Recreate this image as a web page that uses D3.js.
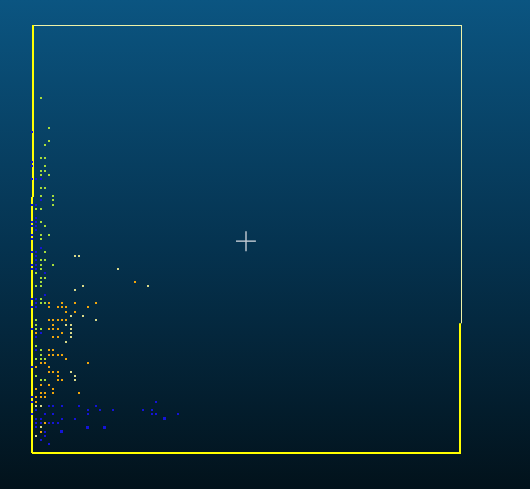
<!DOCTYPE html>
<html><head><meta charset="utf-8">
<script src="https://cdn.jsdelivr.net/npm/d3@7"></script>
<style>html,body{margin:0;padding:0;overflow:hidden;background:#03121b}</style>
</head><body>
<script>
// grid coordinates (0..100 on both axes)
const greenPoints = [[2,83],[4,76],[4,73],[3,72],[2,69],[3,69],[3,67],[2,66],[3,66],[2,65],[4,65],[2,62],[3,62],[2,60],[5,60],[5,59],[5,58],[1,57],[2,57],
 [2,54],[3,53],[2,51],[4,51],[2,50],[3,47],[2,45],[3,45],[2,44],[5,44],[2,43],[1,42],[2,41],[3,41],[2,40],[1,39],[2,39],[2,36],[2,35],[3,35],
 [1,31],[1,30],[1,29],[2,29],[1,25],[2,24],[2,23],[1,22],[2,22],[3,22],[1,18],[2,17],[3,17]];
const orangePoints = [[4,35],[7,35],[10,35],[15,35],[4,34],[6,34],[7,34],[8,34],[13,34],[8,33],[10,33],
 [4,31],[5,31],[6,31],[7,31],[8,31],[5,30],[4,29],[5,29],[6,29],[1,28],[7,28],[5,27],[6,27],
 [4,24],[5,24],[4,23],[5,23],[6,23],[7,23],[8,22],[2,21],[3,21],[13,21],[1,20],[4,20],[4,19],[5,19],[6,19],
 [6,18],[6,17],[7,17],[2,16],[4,16],[1,15],[5,15],[2,14],[3,14],[5,14],[11,14],[1,13],[2,13],[3,13],[1,12],
 [3,7],[2,5],[24,40]];
const lightPoints = [[10,46],[11,46],[20,43],[27,39],[12,39],[10,38],[9,32],[12,32],[15,31],[8,30],[9,30],[9,29],
 [9,28],[9,27],[8,26],[9,19],[10,18],[10,17],[1,11],[2,11],[2,6],[1,4]];
const bluePoints = [[0,75],[0,68],[0,67],[0,64],[0,58],[0,54],[0,53],[0,51],[0,50],[0,47],[0,44],[0,43],[0,36],[0,34],[0,29],[0,20],[0,13],[0,12],[0,9],
 [1,64],[2,64],[1,58],[2,59],[1,55],[1,54],[1,53],[1,52],[2,48],[1,47],[1,46],[1,45],[1,44],[1,43],[3,42],[3,37],[1,36],[1,35],[1,34],
 [2,28],[1,27],[1,24],
 [4,11],[5,11],[7,11],[11,11],[15,11],[29,12],[1,10],[13,10],[16,10],[19,10],[26,10],[28,10],
 [3,9],[5,9],[13,9],[28,9],[29,9],[34,9],[1,8],[2,8],[7,8],[10,8],[1,7],[2,7],[4,7],[5,7],[6,7],
 [1,6],[3,5],[3,4],[2,3],[4,2]];
const bigBluePoints = [[31,8],[13,6],[17,6],[7,5]];
const xDomain = [0,100], yDomain = [0,100];

const W = 530, H = 489;
const svg = d3.select("body").append("svg").attr("width", W).attr("height", H);
const defs = svg.append("defs");
const grad = defs.append("linearGradient").attr("id","bg").attr("x1",0).attr("y1",0).attr("x2",0).attr("y2",1);
grad.append("stop").attr("offset","0%").attr("stop-color","#0b5581");
grad.append("stop").attr("offset","50%").attr("stop-color","#053350");
grad.append("stop").attr("offset","100%").attr("stop-color","#02121b");
svg.append("rect").attr("width",W).attr("height",H).attr("fill","url(#bg)");

const x = d3.scaleLinear().domain(xDomain).range([32, 460]);
const y = d3.scaleLinear().domain(yDomain).range([453, 25]);

function drawPts(data, color, size){
  svg.append("g").selectAll("rect").data(data).join("rect")
    .attr("x", d => Math.round(x(d[0]) - size/2))
    .attr("y", d => Math.round(y(d[1]) - size/2))
    .attr("width", size).attr("height", size)
    .attr("fill", color);
}

// box
const box = svg.append("g").attr("fill","none").attr("stroke","#ffff00").attr("stroke-width",2);
box.append("line").attr("x1",x(0)).attr("x2",x(100)+1.5).attr("y1",y(100)+0.5).attr("y2",y(100)+0.5).attr("stroke","#eef2a8").attr("stroke-width",1);
box.append("line").attr("x1",x(100)+1.5).attr("x2",x(100)+1.5).attr("y1",y(100)).attr("y2",y(30.3)).attr("stroke","#eef2a8").attr("stroke-width",1);
box.append("line").attr("x1",x(100)).attr("x2",x(100)).attr("y1",y(30.3)).attr("y2",y(0));
box.append("line").attr("x1",x(0)).attr("x2",x(100)+1).attr("y1",y(0)).attr("y2",y(0));
box.append("line").attr("x1",x(0)+1).attr("x2",x(0)+1).attr("y1",y(100)).attr("y2",y(59.8));
box.append("line").attr("x1",x(0)).attr("x2",x(0)).attr("y1",y(59.8)).attr("y2",y(0));

drawPts(greenPoints, "#a6dc3c", 2);
drawPts(orangePoints, "#f2a60c", 2);
drawPts(lightPoints, "#d9d98a", 2);
drawPts(bluePoints, "#1414d8", 2);
drawPts(bigBluePoints, "#1414d8", 3);

// crosshair at the centre
const cx = x(50), cy = y(49.5);
const ch = svg.append("g").attr("stroke","#c4ccd4").attr("stroke-width",1.4);
ch.append("line").attr("x1",cx-10).attr("x2",cx+10).attr("y1",cy).attr("y2",cy);
ch.append("line").attr("x1",cx).attr("x2",cx).attr("y1",cy-10).attr("y2",cy+10);
</script>
</body></html>
